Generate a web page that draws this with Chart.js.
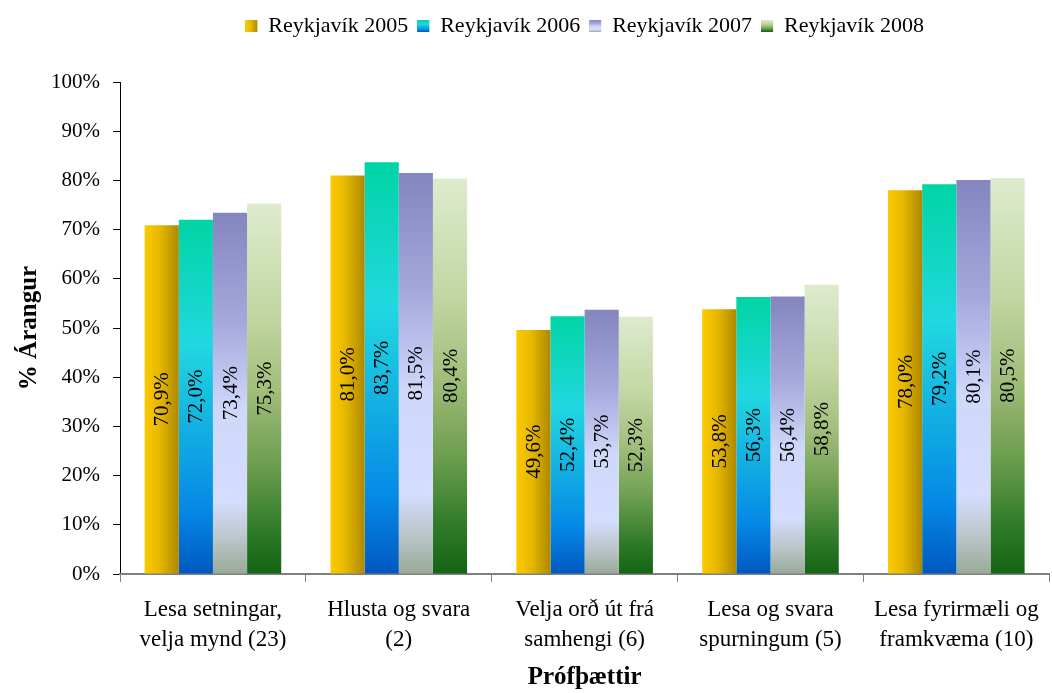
<!DOCTYPE html>
<html>
<head>
<meta charset="utf-8">
<script src="https://cdn.jsdelivr.net/npm/chart.js@4/dist/chart.umd.min.js"></script>
<style>
  html, body { margin: 0; padding: 0; background: #fff; }
  #wrap { width: 1052px; height: 693px; }
</style>
</head>
<body>
<div id="wrap"><canvas id="chart" width="1052" height="693"></canvas></div>
<script>
// Data
const categories = [
  ['Lesa setningar,', 'velja mynd (23)'],
  ['Hlusta og svara', '(2)'],
  ['Velja orð út frá', 'samhengi (6)'],
  ['Lesa og svara', 'spurningum (5)'],
  ['Lesa fyrirmæli og', 'framkvæma (10)']
];
const seriesNames = ['Reykjavík 2005', 'Reykjavík 2006', 'Reykjavík 2007', 'Reykjavík 2008'];
const values2005 = [70.9, 81.0, 49.6, 53.8, 78.0];
const values2006 = [72.0, 83.7, 52.4, 56.3, 79.2];
const values2007 = [73.4, 81.5, 53.7, 56.4, 80.1];
const values2008 = [75.3, 80.4, 52.3, 58.8, 80.5];
const yTicks = [0, 10, 20, 30, 40, 50, 60, 70, 80, 90, 100];

const CAT_PCT = 0.735;
const FONT = "'Liberation Serif', 'Times New Roman', serif";
const LEGEND_FONT = 22;
const BOX = 12;

// gradient stops for each series (first is horizontal, others vertical top->bottom)
const stops = [
  [[0, '#fcca00'], [0.45, '#e6b700'], [1, '#ad8800']],
  [[0, '#00d4a4'], [0.35, '#22d8e0'], [0.6, '#12aee2'], [0.82, '#0588e6'], [1, '#0058bf']],
  [[0, '#8585bf'], [0.3, '#a6a8dc'], [0.55, '#d0d8fa'], [0.8, '#d4ddfd'], [0.9, '#bcc6cc'], [1, '#98aa98']],
  [[0, '#deebce'], [0.3, '#c2d6a2'], [0.5, '#a2be7c'], [0.7, '#6e9e50'], [0.88, '#2f7a28'], [1, '#146414']]
];
const solid = ['#e0b400', '#1298e0', '#c8ccf0', '#5a9444'];

function makeGrad(ctx, ds, left, top, width, height) {
  const g = ds === 0
    ? ctx.createLinearGradient(left, 0, left + width, 0)
    : ctx.createLinearGradient(0, top, 0, top + height);
  stops[ds].forEach(s => g.addColorStop(s[0], s[1]));
  return g;
}

function barFill(c) {
  const chart = c.chart;
  const ds = c.datasetIndex;
  if (c.type !== 'data' || !chart.chartArea || !chart.scales.x) return solid[ds];
  const xs = chart.scales.x, ys = chart.scales.y;
  const center = xs.getPixelForValue(c.dataIndex);
  const cw = (xs.width / categories.length) * CAT_PCT;
  const bw = cw / 4;
  const left = center - cw / 2 + ds * bw;
  const top = ys.getPixelForValue(c.raw);
  const bottom = ys.getPixelForValue(0);
  return makeGrad(chart.ctx, ds, left, top, bw, bottom - top);
}

// writes the value rotated inside each bar
const valueLabels = {
  id: 'valueLabels',
  afterDatasetsDraw(chart) {
    const ctx = chart.ctx;
    ctx.save();
    ctx.font = '21px ' + FONT;
    ctx.fillStyle = '#000';
    ctx.textAlign = 'center';
    ctx.textBaseline = 'middle';
    chart.data.datasets.forEach((d, i) => {
      chart.getDatasetMeta(i).data.forEach((el, j) => {
        const txt = d.data[j].toFixed(1).replace('.', ',') + '%';
        ctx.save();
        ctx.translate(el.x, (el.y + el.base) / 2);
        ctx.rotate(-Math.PI / 2);
        ctx.fillText(txt, 0, 1);
        ctx.restore();
      });
    });
    ctx.restore();
  }
};

// repaint the legend squares with the same gradients as the bars
const legendGradients = {
  id: 'legendGradients',
  afterDraw(chart) {
    const lg = chart.legend;
    if (!lg || !lg.legendHitBoxes) return;
    const ctx = chart.ctx;
    ctx.save();
    lg.legendHitBoxes.forEach((hb, i) => {
      const top = hb.top + Math.max((LEGEND_FONT - BOX) / 2, 0);
      ctx.fillStyle = makeGrad(ctx, i, hb.left, top, BOX, BOX);
      ctx.fillRect(hb.left, top, BOX, BOX);
    });
    ctx.restore();
  }
};

// empty box between legend and plot, to leave the gap the original has
const topSpacer = {
  id: 'topSpacer',
  beforeInit(chart) {
    Chart.layouts.addBox(chart, {
      position: 'top',
      weight: 500,
      fullSize: true,
      options: {},
      isHorizontal() { return true; },
      update(w) { this.width = w; this.height = 35; return { left: 0, right: 0, top: 0, bottom: 0 }; },
      draw() {}
    });
  }
};

Chart.defaults.font.family = FONT;
Chart.defaults.font.size = 21;
Chart.defaults.color = '#000';

new Chart(document.getElementById('chart'), {
  type: 'bar',
  data: {
    labels: categories,
    datasets: [values2005, values2006, values2007, values2008].map((v, i) => ({
      label: seriesNames[i],
      data: v,
      backgroundColor: barFill,
      borderWidth: 0,
      barPercentage: 1,
      categoryPercentage: CAT_PCT
    }))
  },
  options: {
    responsive: false,
    animation: false,
    layout: { padding: { left: 15, right: 0, top: 6, bottom: 0 } },
    plugins: {
      legend: {
        position: 'top',
        fullSize: false,
        labels: {
          boxWidth: BOX,
          boxHeight: BOX,
          padding: 9,
          font: { size: LEGEND_FONT },
          generateLabels(chart) {
            return seriesNames.map((n, i) => ({
              text: n,
              fillStyle: solid[i],
              strokeStyle: solid[i],
              lineWidth: 0,
              datasetIndex: i
            }));
          }
        }
      },
      tooltip: { enabled: false }
    },
    scales: {
      y: {
        min: 0,
        max: 100,
        afterBuildTicks(scale) { scale.ticks = yTicks.map(v => ({ value: v })); },
        afterFit(scale) { scale.width = 105; },
        ticks: {
          callback: v => v + '%',
          padding: 13,
          font: { size: 21 }
        },
        grid: { drawOnChartArea: false, color: '#000', tickLength: 7 },
        border: { color: '#000', width: 1 },
        title: {
          display: true,
          text: '% Árangur',
          font: { size: 25, weight: 'bold' },
          padding: { top: 0, bottom: 0 }
        }
      },
      x: {
        afterFit(scale) { scale.height = 119; },
        ticks: { padding: 13, font: { size: 23, lineHeight: 1.3 }, maxRotation: 0 },
        grid: { drawOnChartArea: false, color: '#808080', tickLength: 8, offset: true },
        border: { color: '#808080', width: 2 },
        title: {
          display: true,
          text: 'Prófþættir',
          font: { size: 25, weight: 'bold' },
          padding: { top: -3, bottom: 0 }
        }
      }
    }
  },
  plugins: [valueLabels, legendGradients, topSpacer]
});
</script>
</body>
</html>
